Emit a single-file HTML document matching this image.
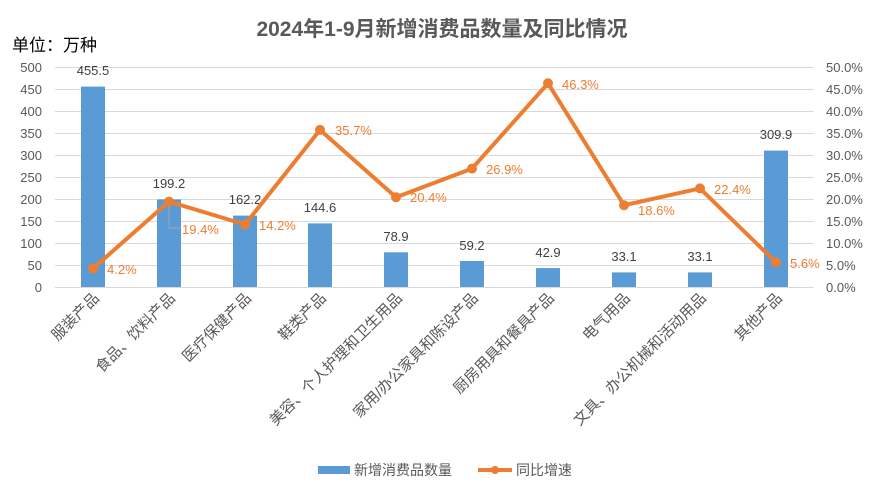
<!DOCTYPE html>
<html><head><meta charset="utf-8"><style>
body{margin:0;background:#fff}
svg{display:block;font-family:"Liberation Sans","Noto Sans CJK SC",sans-serif}
</style></head><body>
<svg width="885" height="491" viewBox="0 0 885 491">
<rect width="885" height="491" fill="#fff"/>
<text x="442" y="36" text-anchor="middle" font-size="21" font-weight="bold" fill="#595959">2024年1-9月新增消费品数量及同比情况</text>
<text x="12" y="51" font-size="17" fill="#000">单位：万种</text>
<g stroke="#d9d9d9" stroke-width="1">
<line x1="55" x2="814" y1="67.5" y2="67.5"/><line x1="55" x2="814" y1="89.5" y2="89.5"/><line x1="55" x2="814" y1="111.5" y2="111.5"/><line x1="55" x2="814" y1="133.5" y2="133.5"/><line x1="55" x2="814" y1="155.5" y2="155.5"/><line x1="55" x2="814" y1="177.5" y2="177.5"/><line x1="55" x2="814" y1="199.5" y2="199.5"/><line x1="55" x2="814" y1="221.5" y2="221.5"/><line x1="55" x2="814" y1="243.5" y2="243.5"/><line x1="55" x2="814" y1="265.5" y2="265.5"/><line x1="55" x2="814" y1="287.5" y2="287.5"/>
</g>
<g font-size="13" fill="#595959" text-anchor="end">
<text x="42" y="72">500</text><text x="42" y="94">450</text><text x="42" y="116">400</text><text x="42" y="138">350</text><text x="42" y="160">300</text><text x="42" y="182">250</text><text x="42" y="204">200</text><text x="42" y="226">150</text><text x="42" y="248">100</text><text x="42" y="270">50</text><text x="42" y="292">0</text>
</g>
<g font-size="13" fill="#595959" text-anchor="start">
<text x="826" y="72">50.0%</text><text x="826" y="94">45.0%</text><text x="826" y="116">40.0%</text><text x="826" y="138">35.0%</text><text x="826" y="160">30.0%</text><text x="826" y="182">25.0%</text><text x="826" y="204">20.0%</text><text x="826" y="226">15.0%</text><text x="826" y="248">10.0%</text><text x="826" y="270">5.0%</text><text x="826" y="292">0.0%</text>
</g>
<g fill="#5b9bd5">
<rect x="81" y="86.6" width="24" height="200.4"/>
<rect x="157" y="199.4" width="24" height="87.6"/>
<rect x="233" y="215.6" width="24" height="71.4"/>
<rect x="308" y="223.4" width="24" height="63.6"/>
<rect x="384" y="252.3" width="24" height="34.7"/>
<rect x="460" y="261" width="24" height="26"/>
<rect x="536" y="268.1" width="24" height="18.9"/>
<rect x="612" y="272.4" width="24" height="14.6"/>
<rect x="688" y="272.4" width="24" height="14.6"/>
<rect x="764" y="150.6" width="24" height="136.4"/>
</g>
<g font-size="13" fill="#404040" text-anchor="middle">
<text x="93" y="75">455.5</text><text x="169" y="188">199.2</text><text x="245" y="204">162.2</text><text x="320" y="212">144.6</text><text x="396" y="241">78.9</text><text x="472" y="250">59.2</text><text x="548" y="257">42.9</text><text x="624" y="261">33.1</text><text x="700" y="261">33.1</text><text x="776" y="139">309.9</text>
</g>
<polyline points="169,202 169,228 180,228" fill="none" stroke="#a6a6a6" stroke-width="1"/>
<polyline fill="none" stroke="#ed7d31" stroke-width="4" stroke-linejoin="round" points="93,268.5 169,201.6 245,224.5 320,129.9 396,197.2 472,168.6 548,83.3 624,205.2 700,188.4 776,262.4"/>
<g fill="#ed7d31">
<circle cx="93" cy="268.5" r="5"/><circle cx="169" cy="201.6" r="5"/><circle cx="245" cy="224.5" r="5"/><circle cx="320" cy="129.9" r="5"/><circle cx="396" cy="197.2" r="5"/><circle cx="472" cy="168.6" r="5"/><circle cx="548" cy="83.3" r="5"/><circle cx="624" cy="205.2" r="5"/><circle cx="700" cy="188.4" r="5"/><circle cx="776" cy="262.4" r="5"/>
</g>
<g font-size="13" fill="#ed7d31">
<text x="107" y="274">4.2%</text><text x="182" y="234">19.4%</text><text x="259" y="230">14.2%</text><text x="335" y="135">35.7%</text><text x="410" y="202">20.4%</text><text x="486" y="174">26.9%</text><text x="562" y="89">46.3%</text><text x="638" y="215">18.6%</text><text x="714" y="194">22.4%</text><text x="790" y="268">5.6%</text>
</g>
<g font-size="15" fill="#595959" text-anchor="end">
<text transform="translate(100,299) rotate(-45)">服装产品</text>
<text transform="translate(176,299) rotate(-45)">食品、饮料产品</text>
<text transform="translate(252,299) rotate(-45)">医疗保健产品</text>
<text transform="translate(327,299) rotate(-45)">鞋类产品</text>
<text transform="translate(403,299) rotate(-45)">美容、个人护理和卫生用品</text>
<text transform="translate(479,299) rotate(-45)">家用/办公家具和陈设产品</text>
<text transform="translate(555,299) rotate(-45)">厨房用具和餐具产品</text>
<text transform="translate(631,299) rotate(-45)">电气用品</text>
<text transform="translate(707,299) rotate(-45)">文具、办公机械和活动用品</text>
<text transform="translate(783,299) rotate(-45)">其他产品</text>
</g>
<rect x="318" y="466" width="32" height="8" fill="#5b9bd5"/>
<text x="354" y="475" font-size="14" fill="#595959">新增消费品数量</text>
<line x1="478" x2="512" y1="470" y2="470" stroke="#ed7d31" stroke-width="4"/>
<circle cx="495" cy="470" r="4" fill="#ed7d31"/>
<text x="516" y="475" font-size="14" fill="#595959">同比增速</text>
</svg>
</body></html>
